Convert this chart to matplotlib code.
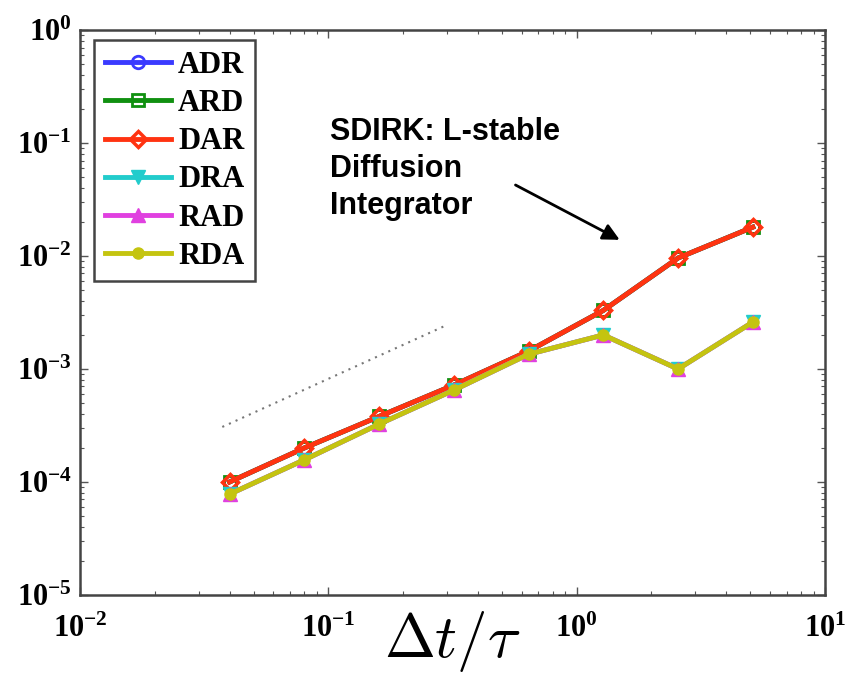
import matplotlib
matplotlib.use("Agg")
import matplotlib.pyplot as plt
from matplotlib.ticker import LogLocator, NullFormatter

# Data
dt = [0.04, 0.08, 0.16, 0.32, 0.64, 1.28, 2.56, 5.12]
err_upper = [1.0e-4, 2.0e-4, 3.8e-4, 7.2e-4, 1.44e-3, 3.3e-3, 9.6e-3, 1.8e-2]
err_lower = [7.8e-5, 1.57e-4, 3.25e-4, 6.5e-4, 1.35e-3, 2.0e-3, 1.0e-3, 2.6e-3]
ADR = err_upper
ARD = err_upper
DAR = err_upper
DRA = err_lower
RAD = err_lower
RDA = err_lower
ref_x = [0.0374, 0.30]
ref_y = [3.07e-4, 2.45e-3]
labels = ["ADR", "ARD", "DAR", "DRA", "RAD", "RDA"]

plt.rcParams['mathtext.fontset'] = 'cm'
fig = plt.figure(figsize=(8.46, 6.82), dpi=100)
ax = fig.add_axes([0.0946, 0.1276, 0.8806, 0.8284])

serif = 'Liberation Serif'
lw = 3.5
ms = 9
ax.plot(ref_x, ref_y, linestyle=(0, (1, 2.5)), color='#777777', lw=1.5)
ax.plot(dt, ADR, color='#3a3aff', lw=lw, marker='o', ms=ms, mfc='none', mew=2, label=labels[0])
ax.plot(dt, ARD, color='#109010', lw=lw, marker='s', ms=ms, mfc='none', mew=2, label=labels[1])
ax.plot(dt, DAR, color='#ff3311', lw=lw, marker='D', ms=ms - 1, mfc='none', mew=2.5, label=labels[2])
ax.plot(dt, DRA, color='#22cccc', lw=lw, marker='v', ms=ms + 1, label=labels[3])
ax.plot(dt, RAD, color='#e040e0', lw=lw, marker='^', ms=ms + 1, label=labels[4])
ax.plot(dt, RDA, color='#c4c410', lw=lw, marker='o', ms=ms - 1, label=labels[5])

ax.set_xscale('log')
ax.set_yscale('log')
ax.set_xlim(1e-2, 1e1)
ax.set_ylim(1e-5, 1e0)
ax.xaxis.set_major_locator(LogLocator(base=10, numticks=10))
ax.yaxis.set_major_locator(LogLocator(base=10, numticks=10))
ax.xaxis.set_minor_locator(LogLocator(base=10, subs=range(2, 10), numticks=20))
ax.yaxis.set_minor_locator(LogLocator(base=10, subs=range(2, 10), numticks=20))
ax.xaxis.set_minor_formatter(NullFormatter())
ax.yaxis.set_minor_formatter(NullFormatter())
ax.tick_params(which='both', direction='in', top=True, right=True, color='#555555')
ax.tick_params(which='major', length=6, width=1)
ax.tick_params(which='minor', length=3, width=0.8)
ax.tick_params(axis='x', pad=14)
ax.tick_params(axis='y', pad=6)
for lab in ax.get_xticklabels() + ax.get_yticklabels():
    lab.set_fontfamily(serif)
    lab.set_fontweight('bold')
    lab.set_fontsize(22)
for s in ax.spines.values():
    s.set_linewidth(1.8)
    s.set_color('#444444')

ax.set_xlabel(r'$\Delta t/\tau$', fontsize=44, labelpad=-25)

leg = ax.legend(loc='upper left', bbox_to_anchor=(0.019, 0.982), fancybox=False,
                prop={'family': serif, 'weight': 'bold', 'size': 22},
                handlelength=2.15, labelspacing=0.3, borderpad=0.35, handletextpad=0.25,
                borderaxespad=0.0, framealpha=1)
leg.get_frame().set_edgecolor('#444444')
leg.get_frame().set_linewidth(1.8)

ax.annotate('', xy=(1.49, 0.0139), xytext=(0.567, 0.0425),
            arrowprops=dict(arrowstyle='-|>', color='black', lw=2, mutation_scale=25,
                            shrinkA=0, shrinkB=0))
ax.text(0.102, 0.17, 'SDIRK: L-stable\nDiffusion\nIntegrator', fontfamily='Liberation Sans',
        fontweight='bold', fontsize=22, va='top', ha='left', linespacing=1.3)

fig.savefig('out.png', dpi=100)
